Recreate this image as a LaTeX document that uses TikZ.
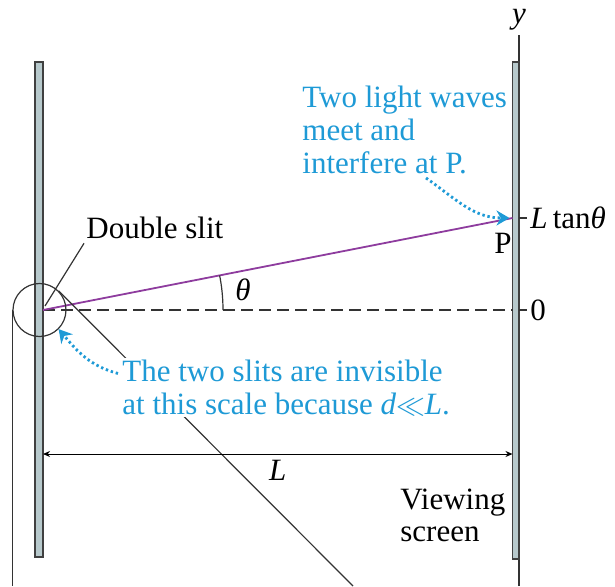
\documentclass[tikz,border=0pt]{standalone}
\usepackage{fontspec}
\setmainfont{Liberation Serif}
\usetikzlibrary{arrows.meta,positioning,calc}
\definecolor{hintBlue}{HTML}{1E9AD6}
\definecolor{rayPurple}{HTML}{8E3C9E}
\definecolor{barGray}{HTML}{B7C9CC}

\begin{document}
\begin{tikzpicture}[
            x=0.5pt, y=0.5pt,
            font=\fontsize{15.5}{16.3}\selectfont,
            bar/.style={
                    draw=black!75,
                    fill=barGray,
                    line width=0.8pt
                },
            leader/.style={
                    draw=black!80,
                    line width=0.6pt
                },
            label/.style={
                    inner sep=1pt,
                    align=left
                },
            hint/.style={
                    text=hintBlue,
                    inner sep=1pt,
                    align=left
                },
            hintarrow/.style={
                    draw=hintBlue,
                    line width=1.4pt,
                    dash pattern=on 1.2pt off 1.4pt,
                    -{Stealth[length=6.5pt,width=7.5pt]}
                },
            dim/.style={
                    line width=0.5pt,
                    {Stealth[length=3.5pt,width=3pt]}-{Stealth[length=3.5pt,width=3pt]}
                }
        ]

        \useasboundingbox (0,0) rectangle (615,586);

        % Screen axis and bars
        \coordinate (axisTop) at (519,551);
        \coordinate (axisBot) at (519,0);
        \draw[leader] (axisBot) -- (axisTop);
        \node[label, above=1pt of axisTop] (ylab) {\textit{y}};

        \draw[bar] (35,29) rectangle (43,524);
        \draw[bar] (512.5,27) rectangle (519,524);

        % Slit and P
        \coordinate (S) at (43,276);
        \coordinate (P) at (512.5,368);
        \coordinate (O) at (512.5,276);

        \draw[leader, dash pattern=on 6pt off 3pt] (S) -- (O);
        \draw[rayPurple, line width=0.9pt] (S) -- (P);

        % Angle
        \draw[leader] ($(S)+(180,0)$) arc[start angle=0, end angle=11.07, radius=180];
        \node[label] (thetalab) at (243,296) {\textit{θ}};

        % Ticks on the screen
        \draw[leader] (519,368) -- (527,368);
        \draw[leader] (519,276) -- (527,276);
        \node[label, anchor=west] (ltan) at (528,368) {\textit{L}\,tan\textit{θ}};
        \node[label, anchor=west] (zero) at (528,276) {0};
        \node[label] (plab) at (503,343) {P};

        % Magnifier circle
        \node[leader, circle, minimum size=26.5pt, inner sep=0pt] (lens) at (39.5,276) {};
        \coordinate (zoomR) at (353,0);
        \coordinate (zoomL) at (lens.west |- zoomR);
        \draw[leader] (lens.west) -- (zoomL);
        \draw[leader] (lens.north east) -- (zoomR);

        % Double slit label
        \node[label, anchor=west] (dslit) at (84,358) {Double slit};
        \draw[leader] ([yshift=-1pt]dslit.south west) -- ([shift={(2,4)}]S);

        % Blue notes
        \node[hint, anchor=west] (meet) at (300,456) {Two light waves\\meet and\\interfere at P.};
        \draw[hintarrow] ([xshift=63pt,yshift=-1pt]meet.south west) to[out=-35, in=180] ([xshift=-1.5pt]P);

        \node[hint, anchor=west, fill=white] (slits) at (120,198.5)
            {The two slits are invisible\\at this scale because \textit{d}$\ll$\textit{L}.};
        \draw[hintarrow] ([shift={(-1pt,-8pt)}]slits.north west) to[out=165, in=-50] (lens.south east);

        % Distance L
        \coordinate (dimy) at (0,132);
        \draw[dim] (S |- dimy) -- node[label, below=2pt] (llab) {\textit{L}} (P |- dimy);

        % Screen label
        \node[label, anchor=west] (screen) at (398,70.5) {Viewing\\screen};

    \end{tikzpicture}
\end{document}
